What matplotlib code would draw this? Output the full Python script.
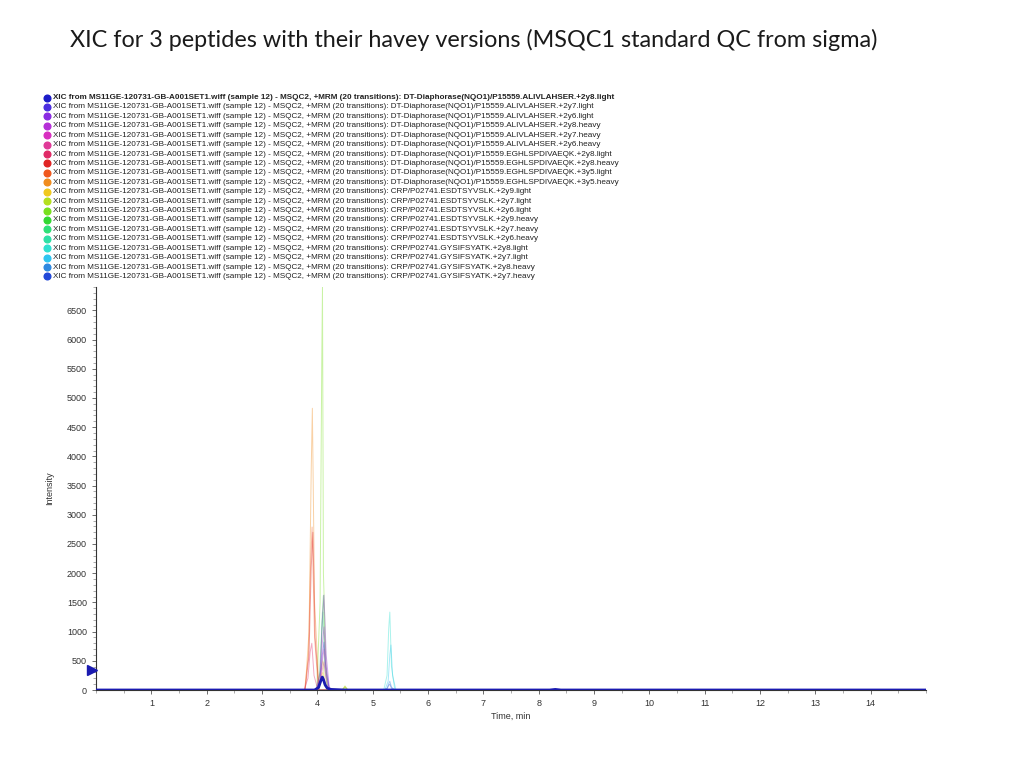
import matplotlib
matplotlib.use("Agg")
import matplotlib.pyplot as plt
from matplotlib.lines import Line2D
from matplotlib.ticker import MultipleLocator

plt.rcParams['font.family'] = ['Liberation Sans', 'DejaVu Sans']

TITLE = "XIC for 3 peptides with their havey versions (MSQC1 standard QC from sigma)"
PREFIX = "XIC from MS11GE-120731-GB-A001SET1.wiff (sample 12) - MSQC2, +MRM (20 transitions): "

transitions = [
    "DT-Diaphorase(NQO1)/P15559.ALIVLAHSER.+2y8.light",
    "DT-Diaphorase(NQO1)/P15559.ALIVLAHSER.+2y7.light",
    "DT-Diaphorase(NQO1)/P15559.ALIVLAHSER.+2y6.light",
    "DT-Diaphorase(NQO1)/P15559.ALIVLAHSER.+2y8.heavy",
    "DT-Diaphorase(NQO1)/P15559.ALIVLAHSER.+2y7.heavy",
    "DT-Diaphorase(NQO1)/P15559.ALIVLAHSER.+2y6.heavy",
    "DT-Diaphorase(NQO1)/P15559.EGHLSPDIVAEQK.+2y8.light",
    "DT-Diaphorase(NQO1)/P15559.EGHLSPDIVAEQK.+2y8.heavy",
    "DT-Diaphorase(NQO1)/P15559.EGHLSPDIVAEQK.+3y5.light",
    "DT-Diaphorase(NQO1)/P15559.EGHLSPDIVAEQK.+3y5.heavy",
    "CRP/P02741.ESDTSYVSLK.+2y9.light",
    "CRP/P02741.ESDTSYVSLK.+2y7.light",
    "CRP/P02741.ESDTSYVSLK.+2y6.light",
    "CRP/P02741.ESDTSYVSLK.+2y9.heavy",
    "CRP/P02741.ESDTSYVSLK.+2y7.heavy",
    "CRP/P02741.ESDTSYVSLK.+2y6.heavy",
    "CRP/P02741.GYSIFSYATK.+2y8.light",
    "CRP/P02741.GYSIFSYATK.+2y7.light",
    "CRP/P02741.GYSIFSYATK.+2y8.heavy",
    "CRP/P02741.GYSIFSYATK.+2y7.heavy",
]

colors = [
    "#1c1cc8", "#4b2ee0", "#8a2be2", "#b52fd8", "#d82fc0", "#e03a98",
    "#e02a66", "#e02424", "#f0581e", "#f08c1e", "#f0c81e", "#b4e01e",
    "#78e01e", "#32d832", "#2ee078", "#2ee0a6", "#2ee0d0", "#2ec4f0",
    "#2e88e0", "#2248d8",
]

# chromatogram points per trace (time in min, intensity)
times = [
    [0, 3.95, 4.02, 4.06, 4.09, 4.11, 4.14, 4.18, 4.25, 4.5, 8.2, 8.3, 8.4, 15],
    [0, 3.98, 4.05, 4.09, 4.12, 4.16, 4.22, 15],
    [0, 3.98, 4.05, 4.09, 4.12, 4.16, 4.22, 15],
    [0, 3.98, 4.05, 4.09, 4.12, 4.16, 4.22, 15],
    [0, 3.98, 4.05, 4.09, 4.12, 4.16, 4.22, 15],
    [0, 3.98, 4.05, 4.09, 4.12, 4.16, 4.22, 15],
    [0, 3.76, 3.83, 3.87, 3.90, 3.94, 4.01, 15],
    [0, 3.78, 3.85, 3.89, 3.92, 3.96, 4.03, 15],
    [0, 3.77, 3.84, 3.88, 3.905, 3.95, 4.02, 15],
    [0, 3.78, 3.85, 3.89, 3.91, 3.95, 4.03, 15],
    [0, 3.98, 4.04, 4.08, 4.10, 4.13, 4.20, 4.45, 4.5, 4.55, 15],
    [0, 3.98, 4.04, 4.08, 4.10, 4.13, 4.20, 4.45, 4.5, 4.55, 15],
    [0, 3.99, 4.05, 4.08, 4.093, 4.11, 4.17, 4.45, 4.5, 4.55, 15],
    [0, 4.00, 4.06, 4.09, 4.11, 4.14, 4.21, 4.45, 4.5, 4.55, 15],
    [0, 3.98, 4.04, 4.08, 4.10, 4.13, 4.20, 15],
    [0, 3.98, 4.04, 4.08, 4.10, 4.13, 4.20, 15],
    [0, 5.20, 5.26, 5.29, 5.31, 5.34, 5.40, 15],
    [0, 5.22, 5.28, 5.31, 5.33, 5.36, 5.42, 15],
    [0, 5.20, 5.26, 5.29, 5.31, 5.34, 5.40, 15],
    [0, 5.20, 5.26, 5.29, 5.31, 5.34, 5.40, 15],
]
intensities = [
    [0, 0, 40, 150, 222, 180, 90, 30, 10, 0, 0, 10, 0, 0],
    [0, 0, 150, 600, 820, 300, 0, 0],
    [0, 0, 300, 1200, 1625, 600, 0, 0],
    [0, 0, 200, 800, 1080, 400, 0, 0],
    [0, 0, 150, 500, 700, 250, 0, 0],
    [0, 0, 100, 350, 480, 150, 0, 0],
    [0, 0, 200, 650, 800, 250, 0, 0],
    [0, 0, 600, 2100, 2700, 900, 0, 0],
    [0, 0, 600, 2200, 2790, 900, 0, 0],
    [0, 0, 1000, 3800, 4824, 1500, 0, 0],
    [0, 0, 80, 260, 300, 100, 0, 0, 60, 0, 0],
    [0, 0, 120, 420, 500, 160, 0, 0, 50, 0, 0],
    [0, 0, 1500, 5600, 6900, 2000, 0, 0, 70, 0, 0],
    [0, 0, 350, 1300, 1620, 500, 0, 0, 40, 0, 0],
    [0, 0, 280, 1050, 1334, 400, 0, 0],
    [0, 0, 60, 180, 220, 70, 0, 0],
    [0, 0, 250, 1050, 1334, 400, 0, 0],
    [0, 0, 150, 600, 770, 250, 0, 0],
    [0, 0, 30, 110, 150, 50, 0, 0],
    [0, 0, 20, 80, 100, 30, 0, 0],
]

fig = plt.figure(figsize=(10.24, 7.68), dpi=100)
fig.text(70 / 1024, 1 - 40 / 768, TITLE, fontsize=16.8, family=['Lato', 'DejaVu Sans'],
         va='center', ha='left', color='#1a1a1a')

# legend rows
for i, (tr, c) in enumerate(zip(transitions, colors)):
    y = 1 - (97.5 + i * 9.42) / 768
    fig.add_artist(Line2D([46.5 / 1024], [y], marker='o', markersize=4.8,
                          markerfacecolor=c, markeredgecolor=c, linestyle='none'))
    fig.text(53 / 1024, y, PREFIX + tr, fontsize=5.9, va='center', ha='left',
             color='#222222', fontweight='bold' if i == 0 else 'normal')

ax = fig.add_axes([96 / 1024, 1 - 690 / 768, 830 / 1024, 403 / 768])
for i in range(len(transitions) - 1, 0, -1):
    ax.plot(times[i], intensities[i], color=colors[i], lw=0.7, alpha=0.4)
ax.plot(times[0], intensities[0], color="#1a1ab0", lw=2.0, zorder=5)
ax.plot([-0.08], [340], marker='>', markersize=7, color="#1a1ab0", clip_on=False, zorder=6)

ax.set_xlim(0, 15)
ax.set_ylim(0, 6900)
ax.xaxis.set_major_locator(MultipleLocator(1))
ax.xaxis.set_minor_locator(MultipleLocator(0.5))
ax.yaxis.set_major_locator(MultipleLocator(500))
ax.yaxis.set_minor_locator(MultipleLocator(100))
ax.set_xticks(range(1, 15))
ax.spines['top'].set_visible(False)
ax.spines['right'].set_visible(False)
ax.spines['left'].set_color('#333333')
ax.spines['bottom'].set_color('#333333')
ax.tick_params(axis='both', which='major', labelsize=6.5, labelcolor='#333333', length=3, width=0.6, color='#555555')
ax.tick_params(axis='both', which='minor', length=2, width=0.5, color='#888888')
ax.set_xlabel("Time, min", fontsize=6.5, color='#333333', labelpad=3)
ax.set_ylabel("Intensity", fontsize=6.5, color='#333333', labelpad=9)

fig.savefig("out.png", dpi=100)
